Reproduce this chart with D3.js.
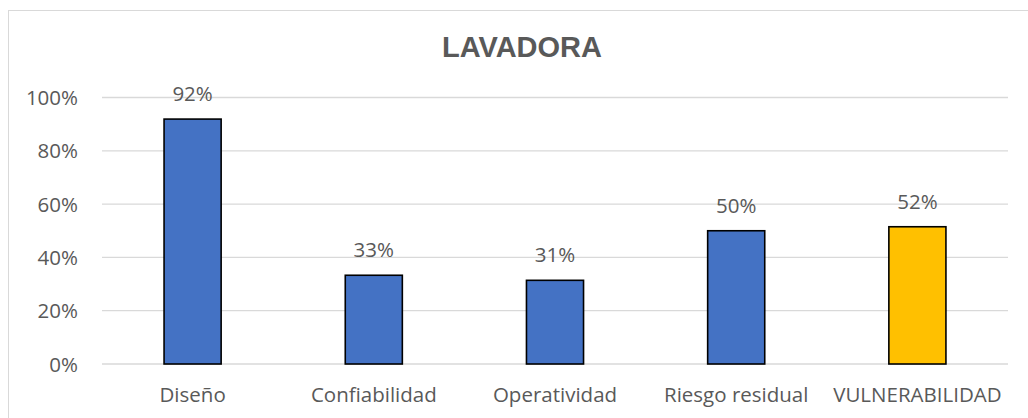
<!DOCTYPE html>
<html>
<head>
<meta charset="utf-8">
<script src="https://cdn.jsdelivr.net/npm/d3@7"></script>
<style>
  body { margin: 0; background: #fff; }
  text { font-family: "Open Sans", sans-serif; fill: #595959; }
</style>
</head>
<body>
<div id="chart"></div>
<script>
// Data
var categories = ["Diseño", "Confiabilidad", "Operatividad", "Riesgo residual", "VULNERABILIDAD"];
var values = [0.919, 0.333, 0.314, 0.50, 0.515];
var barColors = ["#4472C4", "#4472C4", "#4472C4", "#4472C4", "#FFC000"];
var yTicks = [0, 0.2, 0.4, 0.6, 0.8, 1.0];

var svgWidth = 1028, svgHeight = 418;
var margin = { top: 97.5, right: 20, bottom: 54, left: 102 };
var width = 1008 - margin.left;
var height = 364 - margin.top;

var svg = d3.select("#chart").append("svg")
  .attr("width", svgWidth)
  .attr("height", svgHeight);

// chart frame (runs off the right and bottom edge)
svg.append("rect")
  .attr("x", 8.5).attr("y", 10.5)
  .attr("width", 1040).attr("height", 440)
  .attr("fill", "none")
  .attr("stroke", "#d9d9d9");

svg.append("text")
  .attr("x", 522).attr("y", 57)
  .attr("text-anchor", "middle")
  .style("font-family", "'Liberation Sans', Arial, sans-serif")
  .style("font-weight", "bold")
  .style("font-size", "29px")
  .text("LAVADORA");

var g = svg.append("g").attr("transform", `translate(${margin.left}, ${margin.top})`);

var x = d3.scaleBand().domain(categories).range([0, width]).paddingInner(0.685).paddingOuter(0.3425);
var y = d3.scaleLinear().domain([0, 1]).range([height, 0]);

// gridlines
g.selectAll(".grid").data(yTicks).enter().append("line")
  .attr("x1", 0).attr("x2", width)
  .attr("y1", d => y(d)).attr("y2", d => y(d))
  .attr("stroke", "#d9d9d9").attr("stroke-width", 1.3);

// y axis labels
var yAxis = d3.axisLeft(y).tickValues(yTicks).tickFormat(d3.format(".0%")).tickSize(0).tickPadding(24);
var ya = g.append("g").call(yAxis);
ya.select(".domain").remove();
ya.selectAll("text").style("font-size", "20.5px").style("font-family", "'Open Sans', sans-serif").attr("fill", "#595959").attr("dy", "0.35em");

// bars
g.selectAll(".bar").data(values).enter().append("rect")
  .attr("x", (d, i) => x(categories[i]))
  .attr("y", d => y(d))
  .attr("width", x.bandwidth())
  .attr("height", d => height - y(d))
  .attr("fill", (d, i) => barColors[i])
  .attr("stroke", "#000")
  .attr("stroke-width", 1.6);

// value labels
g.selectAll(".val").data(values).enter().append("text")
  .attr("x", (d, i) => x(categories[i]) + x.bandwidth() / 2)
  .attr("y", d => y(d) - 18)
  .attr("text-anchor", "middle")
  .style("font-size", "20.5px")
  .text(d => Math.round(d * 100) + "%");

// category labels
var xAxis = d3.axisBottom(x).tickSize(0).tickPadding(23);
var xa = g.append("g").attr("transform", `translate(0, ${height})`).call(xAxis);
xa.select(".domain").remove();
xa.selectAll("text").style("font-size", "20.5px").style("font-family", "'Open Sans', sans-serif").attr("fill", "#595959").attr("dy", "0.71em");
</script>
</body>
</html>
